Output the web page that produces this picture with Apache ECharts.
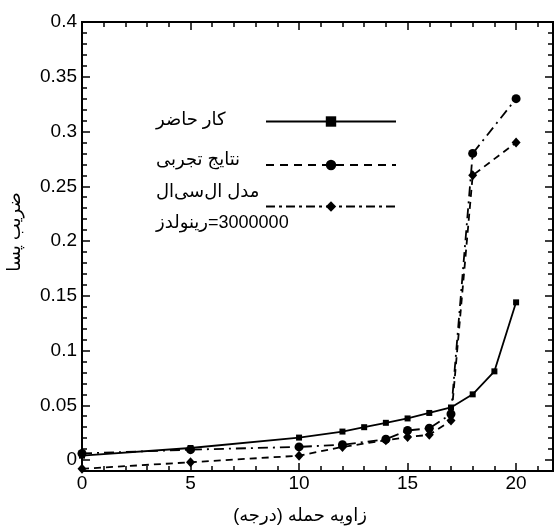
<!DOCTYPE html>
<html><head><meta charset="utf-8">
<script src="https://cdn.jsdelivr.net/npm/echarts@6/dist/echarts.min.js"></script>
<style>html,body{margin:0;padding:0;background:#fff}#c{width:558px;height:528px}</style>
</head><body><div id="c"></div>
<script>
// ---- data ----
const xTicks = [0, 5, 10, 15, 20];
const yTicks = [0, 0.05, 0.1, 0.15, 0.2, 0.25, 0.3, 0.35, 0.4];
const yTickLabels = ['0', '0.05', '0.1', '0.15', '0.2', '0.25', '0.3', '0.35', '0.4'];
const anglePresent = [0, 5, 10, 12, 13, 14, 15, 16, 17, 18, 19, 20];
const present = [0.004, 0.011, 0.0205, 0.026, 0.030, 0.034, 0.038, 0.043, 0.048, 0.060, 0.081, 0.144];
const angleExp = [0, 5, 10, 12, 14, 15, 16, 17, 18, 20];
const experimental = [0.006, 0.0095, 0.012, 0.014, 0.019, 0.027, 0.029, 0.042, 0.28, 0.33];
const lcl = [-0.008, -0.002, 0.004, 0.012, 0.018, 0.021, 0.023, 0.036, 0.26, 0.29];
const seriesNames = ['کار حاضر', 'نتایج تجربی', 'مدل ال\u200cسی\u200cال'];
const reynoldsText = 'رینولدز\u200E=3000000';
const xTitle = 'زاویه حمله (درجه)';
const yTitle = 'ضریب پسا';

// ---- layout / style ----
const FONT = "'Liberation Sans', 'DejaVu Sans', sans-serif";
const BLACK = '#000';
const X_MIN = 0, X_MAX = 21.7, Y_MIN = -0.01, Y_MAX = 0.4;
const xMinor = []; for (let i = 0; i <= 21; i++) xMinor.push(i);
const yMinor = []; for (let i = -1; i <= 40; i++) yMinor.push(Math.round(i) / 100);

function xAx(pos, values, len, showLabel) {
  return {
    type: 'value', min: X_MIN, max: X_MAX, position: pos,
    axisLine: { show: true, onZero: false, lineStyle: { color: BLACK, width: 2 } },
    axisTick: { show: true, inside: true, length: len, customValues: values, lineStyle: { color: BLACK, width: 1.5 } },
    axisLabel: { show: showLabel, customValues: values, color: BLACK, fontSize: 19, fontFamily: FONT, margin: 3 },
    splitLine: { show: false }, minorTick: { show: false }
  };
}
function yAx(pos, values, len, showLabel) {
  return {
    type: 'value', min: Y_MIN, max: Y_MAX, position: pos,
    axisLine: { show: true, onZero: false, lineStyle: { color: BLACK, width: 2 } },
    axisTick: { show: true, inside: true, length: len, customValues: values, lineStyle: { color: BLACK, width: 1.5 } },
    axisLabel: { show: showLabel, customValues: values, color: BLACK, fontSize: 19, fontFamily: FONT, margin: 5,
      formatter: v => yTickLabels[Math.round(v / 0.05)] },
    splitLine: { show: false }, minorTick: { show: false }
  };
}

const chart = echarts.init(document.getElementById('c'), null, { renderer: 'canvas' });
const legendTops = [115, 158.5, 200];
const legendDash = ['solid', [8, 6], [9, 4, 3, 4]];
chart.setOption({
  animation: false,
  backgroundColor: '#fff',
  grid: { left: 82, right: 5, top: 22, bottom: 57, containLabel: false },
  xAxis: [xAx('bottom', xTicks, 8, true), xAx('bottom', xMinor, 5, false), xAx('top', xTicks, 8, false), xAx('top', xMinor, 5, false)],
  yAxis: [yAx('left', yTicks, 8, true), yAx('left', yMinor, 5, false), yAx('right', yTicks, 8, false), yAx('right', yMinor, 5, false)],
  legend: seriesNames.map((n, i) => ({
    data: [{ name: n, lineStyle: { type: legendDash[i], width: 2, color: BLACK } }],
    left: 265, top: legendTops[i], padding: 0, itemWidth: 130, itemHeight: 13,
    formatter: () => '', textStyle: { fontSize: 1 }, selectedMode: false
  })),
  series: [
    { name: seriesNames[0], type: 'line', data: anglePresent.map((a, i) => [a, present[i]]),
      symbol: 'rect', symbolSize: 6, lineStyle: { color: BLACK, width: 1.8, type: 'solid' }, itemStyle: { color: BLACK }, z: 4 },
    { name: seriesNames[1], type: 'line', data: angleExp.map((a, i) => [a, experimental[i]]),
      symbol: 'circle', symbolSize: 9, lineStyle: { color: BLACK, width: 1.8, type: [10, 5, 2, 5] }, itemStyle: { color: BLACK }, z: 3 },
    { name: seriesNames[2], type: 'line', data: angleExp.map((a, i) => [a, lcl[i]]),
      symbol: 'diamond', symbolSize: [9, 10], lineStyle: { color: BLACK, width: 1.8, type: [7, 5] }, itemStyle: { color: BLACK }, z: 3 }
  ],
  graphic: [
    { type: 'text', x: 156, y: 120, style: { text: seriesNames[0], fontSize: 18, fontFamily: FONT, fill: BLACK, align: 'left', verticalAlign: 'middle' } },
    { type: 'text', x: 156, y: 160, style: { text: seriesNames[1], fontSize: 18, fontFamily: FONT, fill: BLACK, align: 'left', verticalAlign: 'middle' } },
    { type: 'text', x: 156, y: 192, style: { text: seriesNames[2], fontSize: 18, fontFamily: FONT, fill: BLACK, align: 'left', verticalAlign: 'middle' } },
    { type: 'text', x: 156, y: 223, style: { text: reynoldsText, fontSize: 18, fontFamily: FONT, fill: BLACK, align: 'left', verticalAlign: 'middle' } },
    { type: 'text', x: 300, y: 516, style: { text: xTitle, fontSize: 18, fontFamily: FONT, fill: BLACK, align: 'center', verticalAlign: 'middle' } },
    { type: 'text', x: 15, y: 232, rotation: Math.PI / 2, style: { text: yTitle, fontSize: 18, fontFamily: FONT, fill: BLACK, align: 'center', verticalAlign: 'middle' } }
  ]
});
</script></body></html>
